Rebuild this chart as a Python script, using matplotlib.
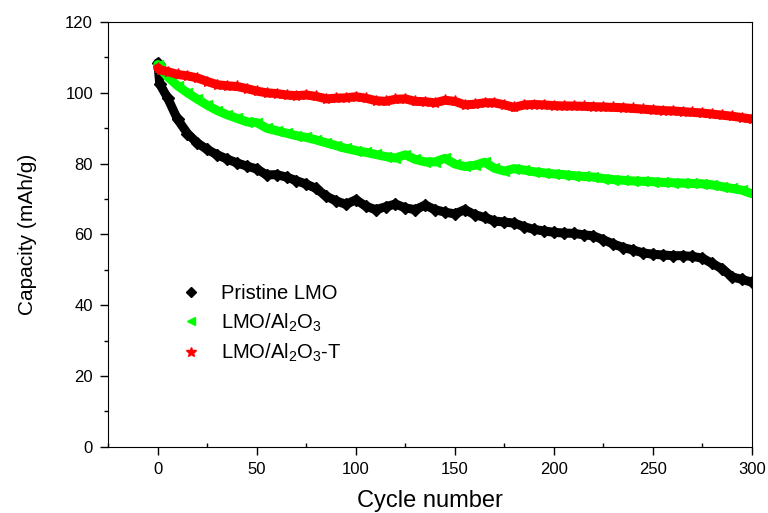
import numpy as np
import matplotlib.pyplot as plt
from matplotlib.ticker import MultipleLocator

plt.rcParams['font.family'] = ['Liberation Sans', 'DejaVu Sans']
plt.rcParams['mathtext.fontset'] = 'custom'
plt.rcParams['mathtext.rm'] = 'Liberation Sans'

# cycle numbers (first two cycles, then every 5 cycles)
cycles = [0, 1] + list(range(5, 301, 5))

pristine = [108.5, 102.5, 98.5, 92.5, 88.5, 85.8, 84.0, 82.5, 81.3, 80.2, 79.3, 78.5,
            76.8, 76.9, 76.2, 75.2, 74.2, 73.0, 70.8, 69.5, 68.5, 69.8, 68.0, 67.0,
            67.8, 68.6, 67.5, 67.0, 68.3, 67.0, 66.3, 65.8, 67.0, 65.6, 64.8, 63.8,
            63.5, 63.2, 62.2, 61.4, 61.0, 60.6, 60.4, 60.3, 59.9, 59.6, 58.5, 57.3,
            56.3, 55.6, 54.8, 54.4, 54.2, 54.0, 54.0, 53.8, 53.3, 51.8, 50.3, 48.0,
            47.3, 46.5]

lmo_al2o3 = [108.0, 107.0, 104.5, 102.0, 100.0, 98.2, 96.5, 95.0, 93.8, 92.8, 91.8, 91.6,
             90.0, 89.3, 88.6, 87.9, 87.4, 86.7, 85.9, 85.1, 84.3, 83.7, 83.2, 82.6,
             82.0, 81.6, 82.5, 81.2, 80.5, 80.5, 81.5, 79.9, 79.2, 79.5, 80.4, 78.7,
             77.9, 78.6, 78.2, 77.7, 77.4, 77.1, 76.9, 76.6, 76.4, 76.2, 75.8, 75.5,
             75.3, 75.1, 75.0, 74.9, 74.7, 74.6, 74.5, 74.4, 74.3, 74.0, 73.5, 73.0,
             72.5, 71.5]

lmo_al2o3_t = [107.0, 106.5, 106.0, 105.2, 104.8, 104.2, 103.2, 102.3, 102.0, 101.8, 101.2, 100.5,
               100.0, 99.8, 99.4, 99.2, 99.4, 99.0, 98.3, 98.5, 98.6, 98.9, 98.5, 97.8,
               97.6, 98.2, 98.3, 97.6, 97.5, 97.2, 97.9, 97.6, 96.6, 96.8, 97.2, 97.2,
               96.6, 95.9, 96.6, 96.7, 96.6, 96.4, 96.3, 96.3, 96.2, 96.1, 96.0, 95.9,
               95.8, 95.6, 95.4, 95.2, 95.0, 94.9, 94.7, 94.5, 94.3, 94.0, 93.7, 93.4,
               93.0, 92.6]

labels = ['Pristine LMO', r'LMO/Al$_2$O$_3$', r'LMO/Al$_2$O$_3$-T']
colors = ['black', '#00ff00', 'red']
markers = ['D', '<', '*']
msizes = [6, 7, 8]

fig = plt.figure(figsize=(7.68, 5.13), dpi=100)
ax = fig.add_axes([0.141, 0.129, 0.838, 0.828])

series = [pristine, lmo_al2o3, lmo_al2o3_t]
for y, lab, c, m, s in zip(series, labels, colors, markers, msizes):
    # thick line under the markers gives the dense band look
    ax.plot(cycles, y, '-', color=c, lw=6.5, solid_capstyle='round')
    ax.plot(cycles, y, m, color=c, ms=s, mec=c, label=lab)

ax.set_xlim(-25, 300)
ax.set_ylim(0, 120)
ax.xaxis.set_major_locator(MultipleLocator(50))
ax.xaxis.set_minor_locator(MultipleLocator(25))
ax.yaxis.set_major_locator(MultipleLocator(20))
ax.yaxis.set_minor_locator(MultipleLocator(10))
ax.tick_params(which='both', direction='out', top=False, right=False, labelsize=12, width=1)
ax.tick_params(which='major', length=6, pad=5)
ax.tick_params(which='minor', length=3)
ax.tick_params(axis='x', which='minor', direction='in')

ax.set_xlabel('Cycle number', fontsize=17, labelpad=9)
ax.set_ylabel('Capacity (mAh/g)', fontsize=15, labelpad=20)

ax.legend(loc='upper left', bbox_to_anchor=(0.085, 0.425), frameon=False,
          fontsize=14.5, handlelength=1.0, handletextpad=1.0, labelspacing=0.4,
          markerscale=0.9)

fig.savefig('out.png', dpi=100)
